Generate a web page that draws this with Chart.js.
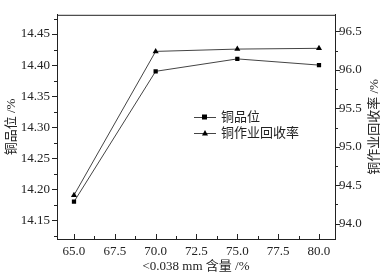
<!DOCTYPE html>
<html>
<head>
<meta charset="utf-8">
<script src="https://cdn.jsdelivr.net/npm/chart.js@4"></script>
<style>
  html, body { margin: 0; padding: 0; background: #fff; }
  #wrap { width: 391px; height: 278px; }
</style>
</head>
<body>
<div id="wrap"><canvas id="c"></canvas></div>
<script>
const xValues = [65.0, 70.0, 75.0, 80.0];
const gradeValues = [14.18, 14.39, 14.41, 14.40];
const recoveryValues = [94.37, 96.24, 96.27, 96.28];
const xTicks = [65.0, 67.5, 70.0, 72.5, 75.0, 77.5, 80.0];
const gradeTicks = [14.15, 14.2, 14.25, 14.3, 14.35, 14.4, 14.45];
const recoveryTicks = [94.0, 94.5, 95.0, 95.5, 96.0, 96.5];
const seriesNames = ["铜品位", "铜作业回收率"];
const xTitle = "<0.038 mm 含量 /%";
const gradeTitle = "铜品位 /%";
const recoveryTitle = "铜作业回收率 /%";

const ink = "#222";
const lineColor = "#444";
const numFont = "'Liberation Serif', 'Times New Roman', serif";
const cjkFont = "'Liberation Serif', 'Noto Sans CJK SC', serif";

function fixedTicks(list) {
  return function (scale) {
    scale.ticks = list.map((v) => ({ value: v }));
  };
}

// ticks, frame, legend and axis titles drawn by hand
const decor = {
  id: "decor",
  afterDraw(chart) {
    const ctx = chart.ctx;
    const a = chart.chartArea;
    const x = chart.scales.x, y = chart.scales.y, y1 = chart.scales.y1;
    ctx.save();
    ctx.strokeStyle = ink;
    ctx.lineWidth = 1;
    ctx.beginPath();
    ctx.moveTo(a.left, a.top + 0.5);
    ctx.lineTo(a.right, a.top + 0.5);
    // left ticks (outward)
    for (let v = 14.125; v < 14.49; v += 0.025) {
      const p = Math.round(y.getPixelForValue(v)) + 0.5;
      if (p < a.top || p > a.bottom) continue;
      const major = Math.abs(((v - 14.15) / 0.05) - Math.round((v - 14.15) / 0.05)) < 0.01;
      ctx.moveTo(a.left, p);
      ctx.lineTo(a.left - (major ? 5 : 3), p);
    }
    // right ticks (outward)
    for (let v = 93.75; v < 96.8; v += 0.25) {
      const p = Math.round(y1.getPixelForValue(v)) + 0.5;
      if (p < a.top || p > a.bottom) continue;
      const major = Math.abs((v * 2) - Math.round(v * 2)) < 0.01;
      ctx.moveTo(a.right, p);
      ctx.lineTo(a.right + (major ? 5 : 3), p);
    }
    // bottom ticks (inward)
    for (let v = 65; v <= 80.01; v += 1.25) {
      const p = Math.round(x.getPixelForValue(v)) + 0.5;
      const major = Math.abs((v / 2.5) - Math.round(v / 2.5)) < 0.01;
      ctx.moveTo(p, a.bottom);
      ctx.lineTo(p, a.bottom - (major ? 5 : 3));
    }
    ctx.stroke();

    // legend
    const lx = 194, ly = [117, 133];
    ctx.font = "13px " + cjkFont;
    ctx.textBaseline = "middle";
    ctx.fillStyle = ink;
    ly.forEach((yy, i) => {
      ctx.strokeStyle = lineColor;
      ctx.beginPath();
      ctx.moveTo(lx, yy + 0.5);
      ctx.lineTo(lx + 22, yy + 0.5);
      ctx.stroke();
      ctx.fillStyle = "#000";
      if (i === 0) {
        ctx.fillRect(lx + 8, yy - 2.5, 5, 5);
      } else {
        ctx.beginPath();
        ctx.moveTo(lx + 11, yy - 3);
        ctx.lineTo(lx + 14, yy + 2.5);
        ctx.lineTo(lx + 8, yy + 2.5);
        ctx.closePath();
        ctx.fill();
      }
      ctx.fillStyle = ink;
      ctx.textAlign = "left";
      ctx.fillText(seriesNames[i], lx + 27, yy + 1);
    });

    // axis titles
    const midY = (a.top + a.bottom) / 2;
    ctx.textAlign = "center";
    ctx.save();
    ctx.translate(12, midY);
    ctx.rotate(-Math.PI / 2);
    ctx.fillText(gradeTitle, 0, 0);
    ctx.restore();
    ctx.save();
    ctx.translate(375, midY);
    ctx.rotate(-Math.PI / 2);
    ctx.fillText(recoveryTitle, 0, 0);
    ctx.restore();
    ctx.fillText(xTitle, 196, 267);
    ctx.restore();
  },
};

const tickFont = { family: numFont, size: 13 };

new Chart(document.getElementById("c"), {
  type: "line",
  data: {
    datasets: [
      {
        label: seriesNames[0],
        data: xValues.map((v, i) => ({ x: v, y: gradeValues[i] })),
        yAxisID: "y",
        borderColor: lineColor,
        borderWidth: 1,
        pointStyle: "rect",
        pointRadius: 3,
        pointBackgroundColor: "#000",
        pointBorderColor: "#000",
        pointBorderWidth: 0,
      },
      {
        label: seriesNames[1],
        data: xValues.map((v, i) => ({ x: v, y: recoveryValues[i] })),
        yAxisID: "y1",
        borderColor: lineColor,
        borderWidth: 1,
        pointStyle: "triangle",
        pointRadius: 3.5,
        pointBackgroundColor: "#000",
        pointBorderColor: "#000",
        pointBorderWidth: 0,
      },
    ],
  },
  options: {
    responsive: true,
    maintainAspectRatio: false,
    animation: false,
    layout: { padding: { top: 9, left: 0, right: 0, bottom: 0 } },
    plugins: { legend: { display: false }, tooltip: { enabled: false } },
    scales: {
      x: {
        type: "linear",
        min: 63.96,
        max: 80.98,
        afterBuildTicks: fixedTicks(xTicks),
        afterFit(scale) { scale.height = 39; },
        grid: { display: false, drawTicks: false },
        border: { display: true, color: ink, width: 1 },
        ticks: { font: tickFont, color: ink, padding: 5, maxRotation: 0,
          callback: (v) => Number(v).toFixed(1) },
      },
      y: {
        position: "left",
        min: 14.12,
        max: 14.481,
        afterBuildTicks: fixedTicks(gradeTicks),
        afterFit(scale) { scale.width = 57; },
        grid: { display: false, drawTicks: false },
        border: { display: true, color: ink, width: 1 },
        ticks: { font: tickFont, color: ink, padding: 7,
          callback: (v) => Number(v).toFixed(2) },
      },
      y1: {
        position: "right",
        min: 93.8,
        max: 96.716,
        afterBuildTicks: fixedTicks(recoveryTicks),
        afterFit(scale) { scale.width = 56; },
        grid: { display: false, drawTicks: false },
        border: { display: true, color: ink, width: 1 },
        ticks: { font: tickFont, color: ink, padding: 4,
          callback: (v) => Number(v).toFixed(1) },
      },
    },
  },
  plugins: [decor],
});
</script>
</body>
</html>
